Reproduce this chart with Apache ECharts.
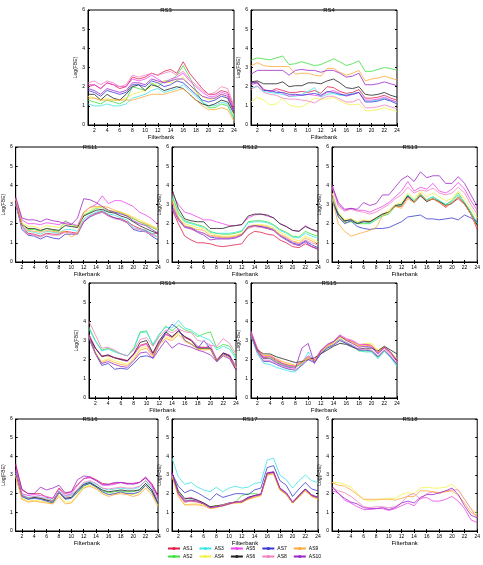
<!DOCTYPE html>
<html>
<head>
<meta charset="utf-8">
<script src="https://cdn.jsdelivr.net/npm/echarts@6/dist/echarts.min.js"></script>
<style>
  html, body { margin: 0; padding: 0; background: #fff; }
  #chart { width: 483px; height: 565px; }
</style>
</head>
<body>
<div id="chart"></div>
<script>
// filterbank index 1..24
var filterbanks = [];
for (var k = 1; k <= 24; k++) filterbanks.push(String(k));

var seriesNames = ['AS1', 'AS2', 'AS3', 'AS4', 'AS5', 'AS6', 'AS7', 'AS8', 'AS9', 'AS10'];
var seriesColors = ['#e0204a', '#3ee03e', '#3ee6e6', '#f2f24a', '#ee44ee', '#222222', '#3a3ad0', '#f080c0', '#ffa838', '#9a28c8'];
var plotTitles = ['RS3', 'RS4', 'RS11', 'RS12', 'RS13', 'RS14', 'RS15', 'RS16', 'RS17', 'RS18'];

// values per plot, one row per speaker AS1..AS10 (null = not plotted)
var rs3 = [
  [2.0,2.1,1.9,2.2,2.1,1.9,2.0,2.5,2.4,2.5,2.7,2.6,2.8,2.9,2.7,3.3,2.7,2.3,1.9,1.6,1.6,1.8,1.7,0.9],
  [1.3,1.2,1.1,1.3,1.2,1.1,1.3,2.0,1.9,1.8,2.2,2.0,2.3,2.3,2.6,3.1,2.5,1.8,1.2,0.9,0.9,1.1,1.0,0.3],
  [1.1,1.0,1.0,1.1,1.0,1.0,1.1,1.4,1.5,1.6,1.8,1.9,1.7,1.8,1.9,2.1,1.8,1.5,1.2,1.0,1.0,1.2,1.1,0.4],
  [1.5,1.4,1.3,1.4,1.3,1.3,1.4,1.6,1.7,1.8,2.0,2.2,2.3,2.2,2.3,2.5,2.1,1.7,1.5,1.3,1.4,1.6,1.4,0.5],
  [2.1,2.1,1.9,2.2,2.1,2.0,2.0,2.4,2.3,2.4,2.6,2.4,2.2,2.4,2.5,2.7,2.3,2.0,1.7,1.5,1.5,1.7,1.6,0.8],
  [1.6,1.6,1.3,1.6,1.4,1.3,1.6,2.0,2.1,1.8,2.1,2.0,1.8,1.9,2.0,1.9,1.6,1.3,1.1,1.0,1.1,1.3,1.2,0.6],
  [1.8,1.7,1.5,1.8,1.7,1.6,1.7,2.1,2.1,2.0,2.3,2.2,2.0,2.1,2.3,2.2,1.9,1.6,1.3,1.2,1.3,1.5,1.4,0.7],
  [2.2,2.3,2.1,2.3,2.2,2.0,2.1,2.6,2.5,2.6,2.7,2.6,2.7,2.8,2.6,2.8,2.4,2.1,1.8,1.6,1.7,2.0,1.9,1.0],
  [1.4,1.4,1.3,1.3,1.3,1.3,1.3,1.3,1.4,1.5,1.6,1.6,1.6,1.7,1.8,1.9,1.6,1.3,1.0,0.8,0.8,0.9,0.8,0.2],
  [1.9,1.8,1.6,1.9,1.8,1.7,1.8,2.2,2.2,2.1,2.4,2.3,2.2,2.3,2.4,2.4,2.1,1.8,1.5,1.4,1.4,1.6,1.5,0.7]
];
var rs4 = [
  [2.2,2.25,1.85,1.75,1.9,1.8,1.7,1.7,1.75,1.7,1.8,1.65,2.0,1.95,1.75,1.65,1.7,1.85,1.4,1.4,1.45,1.55,1.4,1.3],
  [3.38,3.5,3.45,3.4,3.5,3.6,3.15,3.2,3.3,3.2,3.1,3.15,3.3,3.45,3.3,3.1,3.2,3.35,2.8,2.8,2.9,3.0,2.95,2.85],
  [1.95,2.0,1.75,1.7,1.65,1.6,1.5,1.5,1.6,1.75,1.95,1.45,1.6,1.65,1.55,1.55,1.65,1.7,1.25,1.25,1.3,1.4,1.3,1.2],
  [1.2,1.45,1.3,1.05,1.1,1.4,1.05,0.95,0.95,1.15,1.4,1.35,1.35,1.45,1.25,1.1,1.05,1.1,0.75,0.75,0.8,0.9,0.8,0.7],
  [2.1,2.2,1.85,1.75,1.8,1.65,1.5,1.55,1.55,1.6,1.55,1.5,1.7,1.8,1.65,1.5,1.6,1.7,1.3,1.3,1.35,1.45,1.3,1.2],
  [2.25,2.3,2.15,2.15,2.15,2.25,2.0,2.05,2.05,2.2,2.2,2.15,2.3,2.4,2.2,1.95,1.9,2.0,1.6,1.55,1.6,1.7,1.55,1.45],
  [2.2,2.2,1.8,1.8,1.7,1.7,1.6,1.6,1.55,1.6,1.65,1.55,1.75,1.7,1.6,1.55,1.6,1.7,1.2,1.2,1.25,1.35,1.25,1.1],
  [1.85,2.05,1.7,1.6,1.55,1.4,1.35,1.35,1.3,1.25,1.15,1.35,1.5,1.5,1.35,1.2,1.2,1.35,0.9,0.9,0.95,1.05,0.95,0.85],
  [3.1,3.25,3.1,3.05,3.05,3.05,3.05,2.65,2.7,2.7,2.6,2.55,2.95,2.95,2.75,2.6,2.7,2.85,2.3,2.4,2.45,2.55,2.45,2.35],
  [2.65,2.85,2.85,2.85,2.85,2.85,2.6,2.85,2.9,2.85,2.85,2.75,2.85,2.85,2.7,2.5,2.55,2.7,2.1,2.1,2.15,2.25,2.15,2.05]
];
var rs11 = [
  [3.2,1.9,1.5,1.45,1.35,1.5,1.45,1.45,1.6,1.55,1.5,2.1,2.4,2.55,2.65,2.45,2.3,2.25,2.1,1.9,1.75,1.65,1.45,1.5],
  [3.1,2.0,1.7,1.7,1.6,1.75,1.65,1.6,2.15,1.95,1.85,2.45,2.6,2.8,2.85,2.65,2.6,2.55,2.4,2.25,2.1,1.95,1.8,1.65],
  [3.0,1.9,1.6,1.55,1.45,1.6,1.55,1.5,1.7,1.7,1.6,2.25,2.45,2.6,2.7,2.5,2.45,2.3,2.2,1.8,1.7,1.65,1.5,1.3],
  [3.3,2.1,1.85,1.85,1.75,1.9,1.85,1.8,2.0,1.9,1.8,2.55,2.7,2.85,2.85,2.7,2.65,2.6,2.5,2.35,2.2,2.05,1.9,1.75],
  [3.3,2.2,2.0,2.0,1.95,2.05,2.0,1.95,2.1,2.0,1.9,2.6,2.85,3.0,3.45,3.05,3.2,3.2,3.05,2.9,2.6,2.45,2.25,1.95],
  [3.0,1.95,1.75,1.75,1.65,1.75,1.7,1.65,1.9,1.85,1.8,2.4,2.55,2.7,2.75,2.6,2.55,2.4,2.3,2.1,1.9,1.75,1.6,1.5],
  [3.1,1.7,1.4,1.35,1.2,1.35,1.25,1.2,1.45,1.45,1.45,2.1,2.35,2.5,2.6,2.4,2.3,2.2,2.05,1.7,1.6,1.6,1.35,1.15],
  [3.0,1.8,1.45,1.4,1.3,1.45,1.4,1.4,1.55,1.5,1.45,2.15,2.4,2.5,2.6,2.4,2.25,2.2,2.05,1.75,1.7,1.55,1.4,1.3],
  [3.3,2.0,1.65,1.6,1.55,1.65,1.6,1.55,1.6,1.3,1.5,2.6,2.85,2.9,2.9,2.85,2.7,2.6,2.45,2.3,2.1,2.0,1.85,1.7],
  [3.4,2.3,2.2,2.2,2.1,2.25,2.15,2.1,2.0,1.95,2.3,3.3,3.25,3.1,2.9,2.7,2.6,2.5,2.4,2.15,2.0,1.9,1.7,1.5]
];
var rs12 = [
  [2.75,2.0,1.35,1.15,1.0,1.0,0.95,0.85,0.8,0.85,0.9,0.95,1.4,1.6,1.55,1.45,1.4,1.15,1.0,0.8,0.75,0.95,0.8,0.7],
  [3.5,2.6,2.15,2.05,1.95,1.85,1.6,1.5,1.45,1.45,1.5,1.6,2.1,2.15,2.15,2.1,1.95,1.7,1.55,1.35,1.3,1.6,1.45,1.35],
  [3.4,2.5,2.1,2.0,1.9,1.8,1.55,1.5,1.5,1.5,1.55,1.65,2.05,2.1,2.1,2.05,1.9,1.65,1.5,1.3,1.25,1.5,1.35,1.25],
  [3.3,2.4,2.0,1.9,1.8,1.75,1.5,1.4,1.35,1.35,1.4,1.5,1.85,1.95,1.95,1.9,1.8,1.55,1.4,1.2,1.1,1.35,1.2,1.05],
  [3.6,3.0,2.6,2.5,2.35,2.2,2.2,2.1,2.0,1.9,1.9,1.95,2.3,2.45,2.5,2.4,2.3,2.0,1.85,1.65,1.6,1.9,1.7,1.55],
  [3.8,2.8,2.25,2.15,2.1,2.1,1.75,1.75,1.75,1.85,1.9,1.95,2.4,2.5,2.5,2.45,2.3,2.0,1.85,1.65,1.6,1.85,1.7,1.6],
  [2.9,2.3,1.85,1.8,1.6,1.5,1.3,1.25,1.25,1.25,1.3,1.45,1.8,1.9,1.85,1.8,1.7,1.4,1.2,1.0,0.9,1.1,0.9,0.75],
  [3.1,2.2,1.85,1.7,1.6,1.5,1.35,1.3,1.25,1.25,1.3,1.4,1.75,1.85,1.8,1.75,1.65,1.4,1.25,1.05,0.95,1.15,1.0,0.9],
  [3.2,2.3,1.9,1.8,1.7,1.65,1.4,1.35,1.3,1.3,1.35,1.45,1.8,1.9,1.9,1.85,1.7,1.45,1.3,1.1,1.0,1.25,1.1,0.95],
  [2.8,2.2,1.8,1.75,1.55,1.4,1.15,1.2,1.2,1.2,1.25,1.4,1.85,1.9,1.85,1.75,1.65,1.35,1.15,0.95,0.85,1.05,0.8,0.65]
];
var rs13 = [
  [3.6,2.5,2.1,2.25,2.05,2.15,2.1,2.3,2.5,2.6,2.9,2.9,3.4,3.15,3.5,3.2,3.3,3.1,2.85,3.1,3.3,3.0,2.5,1.7],
  [3.3,2.4,2.05,2.1,2.0,2.0,2.0,2.2,2.4,2.5,2.9,2.95,3.5,3.2,3.5,3.25,3.4,3.2,3.0,3.2,3.6,3.1,2.6,2.0],
  [3.4,2.55,2.15,2.2,2.05,2.1,2.05,2.25,2.45,2.6,2.95,3.0,3.5,3.2,3.55,3.25,3.4,3.2,3.0,3.15,3.5,3.1,2.6,2.0],
  [3.6,2.6,2.2,2.25,2.1,2.2,2.15,2.3,2.5,2.7,3.0,3.1,3.6,3.3,3.7,3.4,3.6,3.4,3.2,3.3,3.7,3.3,2.8,2.3],
  [4.0,3.0,2.7,2.8,2.7,2.7,2.6,2.75,2.9,3.1,3.4,3.7,4.2,3.7,3.9,3.8,4.1,3.7,3.6,3.8,4.15,3.8,3.2,2.7],
  [3.2,2.5,2.15,2.2,2.0,2.1,2.1,2.3,2.5,2.6,2.95,3.0,3.45,3.1,3.45,3.15,3.3,3.15,2.95,3.05,3.4,3.05,2.5,1.9],
  [3.3,2.35,2.0,2.15,1.85,1.75,1.7,1.75,1.75,1.8,1.95,2.1,2.35,2.4,2.45,2.25,2.25,2.2,2.25,2.3,2.2,2.45,2.3,2.1],
  [3.9,2.9,2.65,2.75,2.65,2.6,2.5,2.6,2.8,3.0,3.3,3.5,3.9,3.6,3.75,3.7,3.85,3.6,3.5,3.6,3.9,3.6,3.0,2.5],
  [3.3,2.0,1.6,1.35,1.45,1.55,1.65,1.8,2.4,2.6,2.9,2.8,3.3,3.1,3.6,3.2,3.3,3.1,2.9,3.1,3.4,3.0,2.5,1.8],
  [4.0,3.1,2.75,2.8,2.75,3.1,2.95,3.05,3.5,3.5,3.9,4.3,4.5,4.2,4.7,4.4,4.5,4.5,4.1,4.1,4.45,4.1,3.5,2.9]
];
var rs14 = [
  [3.3,2.6,2.2,2.2,2.1,2.05,1.95,2.3,2.75,2.85,2.3,2.95,3.35,3.15,3.5,3.15,3.0,2.65,2.65,2.6,1.95,2.35,2.2,1.5],
  [3.7,3.0,2.5,2.6,2.45,2.3,2.2,2.6,3.45,3.5,2.75,3.3,3.75,3.5,3.8,3.55,3.45,3.2,3.35,3.45,2.6,2.8,2.7,2.15],
  [3.6,2.95,2.45,2.55,2.4,2.3,2.2,2.55,3.4,3.45,2.8,3.35,3.7,3.65,4.05,3.65,3.55,3.3,3.15,3.0,2.5,2.7,2.55,2.05],
  [3.2,2.4,1.9,2.1,1.95,1.85,1.75,2.1,2.6,2.7,2.2,2.85,3.2,3.1,3.4,3.0,2.85,2.6,2.55,2.6,2.0,2.3,2.15,1.6],
  [3.3,2.6,2.2,2.25,2.1,2.0,1.9,2.25,2.7,2.8,2.25,2.9,3.3,3.2,3.5,3.2,3.05,2.7,2.6,2.75,2.0,2.35,2.25,1.65],
  [3.2,2.6,2.15,2.25,2.1,2.0,1.95,2.3,2.9,3.0,2.35,3.0,3.45,3.2,3.5,3.2,3.0,2.6,2.6,2.6,1.95,2.35,2.2,1.5],
  [3.1,2.3,1.7,1.8,1.5,1.55,1.5,1.8,2.15,2.2,2.1,2.8,3.4,3.85,3.6,3.0,2.8,2.6,3.0,2.55,1.9,2.3,2.15,1.5],
  [4.0,3.3,2.6,2.65,2.5,2.3,2.2,2.5,3.05,3.15,2.7,3.2,3.55,3.4,3.6,3.45,3.4,3.0,2.95,2.75,2.7,3.1,2.85,2.3],
  [3.2,2.3,1.85,2.0,1.85,1.75,1.7,2.0,2.5,2.6,2.15,2.8,3.1,3.0,3.3,2.95,2.8,2.55,2.5,2.55,1.95,2.25,2.1,1.55],
  [3.3,2.35,1.8,1.9,1.75,1.65,1.6,1.95,2.35,2.4,2.05,2.55,3.0,2.6,2.85,2.75,2.65,2.5,2.4,2.25,1.9,2.2,2.05,1.45]
];
var rs15 = [
  [3.4,2.5,2.1,2.15,1.95,1.8,1.7,1.65,1.85,2.15,1.95,2.4,2.7,2.9,3.2,3.05,2.95,2.75,2.8,2.75,2.4,2.65,2.35,1.95],
  [3.3,2.4,2.05,2.1,1.9,1.75,1.65,1.6,1.8,2.1,1.9,2.35,2.65,2.8,3.05,2.85,2.7,2.45,2.45,2.45,2.1,2.45,2.15,1.75],
  [3.2,2.3,1.8,1.75,1.6,1.5,1.4,1.35,1.75,2.4,1.85,2.3,2.6,2.8,3.1,2.9,2.75,2.5,2.4,2.4,2.05,2.45,2.1,1.65],
  [3.4,2.5,2.2,2.2,2.0,1.85,1.75,1.7,1.9,2.15,1.95,2.4,2.7,2.85,3.15,3.0,2.9,2.75,2.85,2.85,2.5,2.7,2.4,2.05],
  [3.5,2.6,2.15,2.2,2.0,1.8,1.7,1.65,1.9,2.2,2.0,2.5,2.75,2.95,3.3,3.1,3.0,2.8,2.8,2.7,2.35,2.6,2.3,1.9],
  [3.3,2.5,2.3,2.3,2.15,2.05,1.95,1.85,1.9,2.0,2.1,2.3,2.5,2.7,2.85,2.8,2.65,2.55,2.6,2.6,2.45,2.7,2.5,2.3],
  [3.3,2.4,1.9,1.9,1.75,1.6,1.5,1.45,1.7,2.0,1.85,2.3,2.6,2.75,3.0,2.85,2.7,2.5,2.5,2.45,2.15,2.5,2.15,1.75],
  [3.3,2.4,1.95,1.95,1.8,1.65,1.55,1.45,1.75,2.1,1.9,2.35,2.65,2.8,3.05,2.9,2.75,2.55,2.55,2.5,2.2,2.5,2.2,1.8],
  [3.4,2.6,2.2,2.25,2.05,1.9,1.8,1.7,1.85,2.05,1.95,2.45,2.75,2.9,3.2,3.05,2.9,2.7,2.75,2.75,2.4,2.65,2.35,2.0],
  [3.4,2.5,2.05,2.05,1.85,1.7,1.6,1.55,2.6,2.85,1.8,2.45,2.8,2.95,3.25,3.0,2.85,2.65,2.7,2.65,2.3,2.65,2.4,1.95]
];
var rs16 = [
  [3.6,2.2,2.0,2.0,2.0,1.8,1.75,2.3,2.0,2.1,2.5,2.8,2.9,2.75,2.55,2.5,2.55,2.6,2.55,2.55,2.6,2.85,2.55,1.9],
  [3.0,1.85,1.7,1.8,1.75,1.65,1.55,2.1,1.75,1.8,2.05,2.4,2.55,2.4,2.15,2.05,2.1,2.15,2.1,2.1,2.2,2.55,2.2,1.5],
  [3.1,1.95,1.8,1.85,1.8,1.75,1.65,2.15,1.85,1.95,2.2,2.55,2.65,2.5,2.3,2.2,2.25,2.3,2.25,2.25,2.35,2.7,2.3,1.6],
  [3.0,1.75,1.6,1.65,1.6,1.55,1.45,1.95,1.55,1.55,1.95,2.35,2.45,2.3,2.05,1.95,2.0,2.05,2.0,1.95,2.05,2.4,2.05,1.4],
  [3.3,2.0,1.9,1.95,1.9,1.85,1.75,2.25,1.9,2.0,2.45,2.8,2.85,2.7,2.45,2.45,2.5,2.6,2.5,2.55,2.6,2.9,2.5,1.8],
  [3.2,1.9,1.75,1.8,1.75,1.65,1.6,2.1,1.75,1.8,2.2,2.5,2.6,2.4,2.2,2.1,2.15,2.2,2.15,2.15,2.2,2.55,2.2,1.5],
  [3.1,1.85,1.7,1.75,1.7,1.6,1.5,2.05,1.7,1.75,2.1,2.45,2.55,2.35,2.1,1.95,2.0,2.1,2.0,2.0,2.1,2.45,2.1,1.45],
  [3.2,1.9,1.75,1.85,1.8,1.7,1.6,2.1,1.8,1.9,2.25,2.6,2.7,2.55,2.3,2.25,2.3,2.35,2.3,2.3,2.4,2.7,2.35,1.6],
  [2.9,1.7,1.55,1.6,1.55,1.5,1.45,1.85,1.45,1.5,1.9,2.3,2.4,2.25,2.0,1.85,1.95,2.0,1.95,1.85,1.95,2.3,1.95,1.3],
  [3.5,2.25,2.0,2.0,2.35,2.2,2.3,2.45,2.05,2.1,2.75,2.95,2.9,2.7,2.5,2.5,2.6,2.6,2.55,2.5,2.6,2.85,2.45,1.85]
];
var rs17 = [
  [3.1,2.0,1.55,1.6,1.55,1.45,1.25,1.3,1.35,1.45,1.55,1.55,1.75,1.85,1.95,3.05,3.15,2.25,2.0,1.5,1.85,2.2,1.9,1.75],
  [3.0,2.1,1.65,1.65,1.6,1.5,1.3,1.35,1.4,1.5,1.55,1.9,2.0,2.0,1.95,3.0,3.1,2.2,2.0,1.55,1.9,2.25,1.95,1.8],
  [3.9,2.9,2.5,2.6,2.35,2.2,2.1,2.35,2.1,2.3,2.4,2.3,2.35,2.55,2.6,3.8,3.9,3.0,2.75,2.3,2.7,3.0,2.7,2.6],
  [2.95,1.9,1.4,1.45,1.45,1.4,1.25,1.25,1.35,1.45,1.5,1.5,1.7,1.8,1.9,3.0,3.1,2.2,1.95,1.5,1.85,2.15,1.85,1.75],
  [3.05,2.0,1.7,1.8,1.65,1.5,1.25,1.3,1.4,1.5,1.55,1.6,1.8,1.9,2.0,3.1,3.2,2.3,2.05,1.55,1.9,2.25,1.95,1.8],
  [3.1,2.15,1.75,1.75,1.65,1.5,1.3,1.35,1.4,1.5,1.55,1.6,1.8,1.9,1.95,3.1,3.15,2.25,2.0,1.5,1.9,2.25,1.9,1.8],
  [3.1,2.4,2.05,2.2,2.05,1.85,1.65,2.0,1.8,1.9,2.0,2.0,1.95,2.2,2.3,3.4,3.5,2.7,2.45,1.85,2.25,2.6,2.25,2.15],
  [3.0,1.95,1.55,1.6,1.6,1.45,1.25,1.3,1.4,1.5,1.55,1.6,1.75,1.85,1.95,3.05,3.1,2.25,2.0,1.5,1.85,2.2,1.9,1.75],
  [2.95,1.85,1.4,1.4,1.4,1.35,1.2,1.25,1.35,1.45,1.5,1.55,1.7,1.8,1.9,3.0,3.05,2.2,1.95,1.5,1.8,2.15,1.85,1.7],
  [3.1,2.0,1.6,1.65,1.6,1.45,1.25,1.3,1.35,1.45,1.55,1.55,1.75,1.9,1.95,3.1,3.15,2.3,2.05,1.55,1.9,2.25,1.9,1.8]
];
var rs18 = [
  null,
  null,
  null,
  [2.6,2.6,2.5,2.35,2.0,1.7,1.6,1.65,1.7,1.75,1.75,1.95,2.05,2.0,2.3,2.35,2.3,2.3,2.35,2.5,2.2,1.7,1.2,0.95],
  [2.15,2.05,1.65,1.5,1.3,1.15,1.15,1.2,1.2,1.1,1.2,1.35,1.5,1.35,1.75,1.8,1.6,1.6,1.7,1.85,1.6,1.2,0.6,0.45],
  null,
  null,
  [2.3,2.15,2.05,1.85,1.6,1.3,1.25,1.3,1.3,1.25,1.3,1.5,1.9,2.0,1.7,2.0,2.1,2.0,2.15,2.2,2.2,1.7,1.2,0.7],
  [2.6,2.45,2.4,2.2,1.95,1.7,1.7,1.7,1.7,1.7,1.65,1.75,1.85,1.85,2.15,2.15,2.1,2.05,2.1,2.15,1.9,1.5,1.0,0.8],
  [2.4,2.0,1.75,1.55,1.45,1.25,1.2,1.2,1.25,1.15,1.25,1.5,1.6,1.5,1.8,1.95,1.95,2.05,2.15,2.3,1.95,1.35,0.85,0.7]
];
var plotData = [rs3, rs4, rs11, rs12, rs13, rs14, rs15, rs16, rs17, rs18];

// grid boxes: [left, top, width, height]
var boxes = [
  [88, 10, 146, 115], [251, 10, 146, 115],
  [12, 147, 146, 115], [172, 147, 146, 115], [332, 147, 146, 115],
  [89, 283, 147, 115], [251, 283, 146, 115],
  [12, 419, 146, 112], [172, 419, 146, 112], [332, 419, 146, 112]
];

var fontFam = 'Liberation Sans, Arial, sans-serif';
var evenOnly = function (index) { return (index + 1) % 2 === 0; };

var grids = [], xAxes = [], yAxes = [], titles = [], series = [];
boxes.forEach(function (b, g) {
  grids.push({ left: b[0], top: b[1], width: b[2], height: b[3], show: true, borderColor: '#000', borderWidth: 1, backgroundColor: '#fff' });
  titles.push({
    text: plotTitles[g], left: b[0] + b[2] / 2, top: b[1] - 8, textAlign: 'center',
    textStyle: { fontSize: 6, fontWeight: 'normal', color: '#000', fontFamily: fontFam }
  });
  xAxes.push({
    gridIndex: g, type: 'category', data: filterbanks, boundaryGap: false,
    name: 'Filterbank', nameLocation: 'middle', nameGap: 9,
    nameTextStyle: { fontSize: 6, color: '#000', fontFamily: fontFam },
    axisLine: { lineStyle: { color: '#000', width: 1 } },
    axisTick: { inside: true, length: 2, interval: evenOnly, lineStyle: { color: '#000' } },
    axisLabel: { fontSize: 5, color: '#000', margin: 3, interval: evenOnly, fontFamily: fontFam },
    splitLine: { show: false }
  });
  // top mirror axis: ticks only, like a boxed plot
  xAxes.push({
    gridIndex: g, type: 'category', data: filterbanks, boundaryGap: false, position: 'top',
    axisLine: { show: false },
    axisTick: { inside: true, length: 2, interval: evenOnly, lineStyle: { color: '#000' } },
    axisLabel: { show: false }, splitLine: { show: false }
  });
  yAxes.push({
    gridIndex: g, type: 'value', min: 0, max: 6, interval: 1,
    name: 'Log(FBE)', nameLocation: 'middle', nameGap: 8,
    nameTextStyle: { fontSize: 5, color: '#000', fontFamily: fontFam },
    axisLine: { show: true, lineStyle: { color: '#000', width: 1 } },
    axisTick: { show: true, inside: true, length: 2, lineStyle: { color: '#000' } },
    axisLabel: { fontSize: 5, color: '#000', margin: 3, fontFamily: fontFam },
    splitLine: { show: false }
  });
  yAxes.push({
    gridIndex: g, type: 'value', min: 0, max: 6, interval: 1, position: 'right',
    axisLine: { show: false },
    axisTick: { show: true, inside: true, length: 2, lineStyle: { color: '#000' } },
    axisLabel: { show: false }, splitLine: { show: false }
  });
  plotData[g].forEach(function (vals, s) {
    if (!vals) return;
    series.push({
      name: seriesNames[s], type: 'line', xAxisIndex: g * 2, yAxisIndex: g * 2,
      data: vals, symbol: 'none', animation: false,
      lineStyle: { width: 0.8, color: seriesColors[s] },
      itemStyle: { color: seriesColors[s] }
    });
  });
});

var legendText = { fontSize: 5, color: '#000', fontFamily: fontFam, padding: [0, 0, 0, -2] };
var chart = echarts.init(document.getElementById('chart'), null, { renderer: 'canvas' });
chart.setOption({
  backgroundColor: '#fff',
  animation: false,
  title: titles,
  grid: grids,
  xAxis: xAxes,
  yAxis: yAxes,
  legend: [
    { data: ['AS1', 'AS3', 'AS5', 'AS7', 'AS9'], left: 167, top: 546, padding: 0, itemWidth: 12, itemHeight: 4, itemGap: 6, textStyle: legendText, selectedMode: false },
    { data: ['AS2', 'AS4', 'AS6', 'AS8', 'AS10'], left: 167, top: 554, padding: 0, itemWidth: 12, itemHeight: 4, itemGap: 6, textStyle: legendText, selectedMode: false }
  ],
  series: series
});
</script>
</body>
</html>
